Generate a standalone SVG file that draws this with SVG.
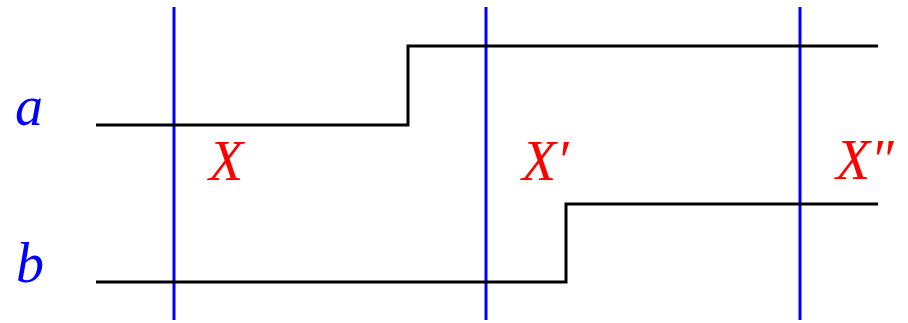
<svg xmlns="http://www.w3.org/2000/svg" width="908" height="323" viewBox="0 0 908 323">
<style>
.cur{stroke:#0000ff;stroke-width:3;fill:none}
.sig{stroke:#000;stroke-width:3;fill:none}
.lbl{font-family:"Liberation Serif","Times New Roman",serif;font-style:italic;font-size:56px}
.blue{fill:#0000ff}
.red{fill:#ff0000}
</style>
<rect width="908" height="323" fill="#fff"/>
<g id="connectors">
<line class="cur" x1="174" y1="7" x2="174" y2="320"/>
<line class="cur" x1="486" y1="7" x2="486" y2="320"/>
<line class="cur" x1="800" y1="7" x2="800" y2="320"/>
</g>
<g id="signal-a">
<polyline class="sig" points="96,125 408,125 408,46 878,46"/>
<text class="lbl blue" x="15" y="125">a</text>
</g>
<g id="signal-b">
<polyline class="sig" points="96,282 566,282 566,204 878,204"/>
<text class="lbl blue" x="16" y="282">b</text>
</g>
<g id="state-X"><text class="lbl red" x="209" y="180">X</text></g>
<g id="state-X1"><text class="lbl red" x="522" y="180">X′</text></g>
<g id="state-X2"><text class="lbl red" x="836" y="179">X″</text></g>
</svg>
